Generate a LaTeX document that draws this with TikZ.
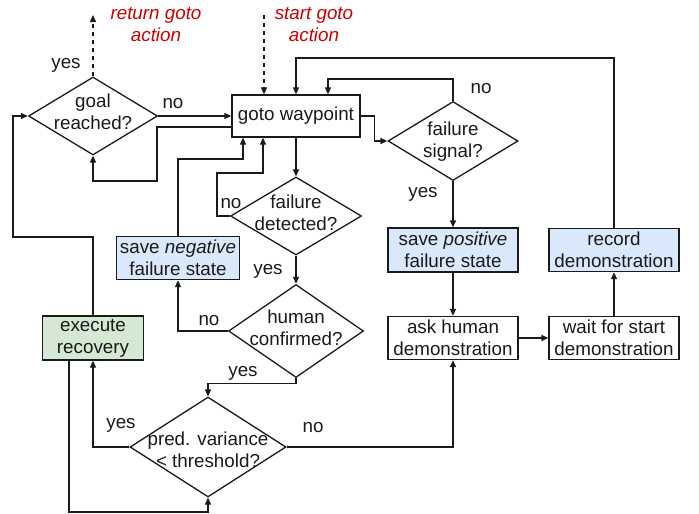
\documentclass[tikz,border=0pt]{standalone}
\usepackage{fontspec}
\setmainfont{Liberation Sans}
\usetikzlibrary{arrows.meta,shapes.geometric}
\newcommand{\fcfont}{\fontsize{18.8pt}{22pt}\selectfont}
\definecolor{fcink}{HTML}{1A1A1A}
\definecolor{fcblue}{HTML}{DAE8FC}
\definecolor{fcgreen}{HTML}{D5E8D4}
\definecolor{fcred}{HTML}{CC0000}
\tikzset{
  flowbox/.style={draw=fcink,rectangle,fill=white,line width=1.3pt,
    minimum width=130pt,minimum height=43pt,inner sep=0pt,align=center,
    font=\fcfont,text=fcink},
  flowdecision/.style={draw=fcink,diamond,fill=white,line width=1.3pt,inner sep=0pt},
  flowtext/.style={align=center,font=\fcfont,text=fcink,inner sep=0pt},
  flowlabel/.style={font=\fcfont,text=fcink,inner sep=0pt},
  flownote/.style={align=center,font=\fcfont\itshape,text=fcred,inner sep=0pt},
  flowline/.style={draw=fcink,line width=1.3pt},
  flowarrow/.style={draw=fcink,line width=1.3pt,-{Triangle[length=7pt,width=6pt]}},
  flowdashed/.style={draw=fcink,line width=1.3pt,dash pattern=on 4pt off 4pt,
    -{Triangle[length=7pt,width=6pt]}},
}
\begin{document}
\begin{tikzpicture}[x=1pt,y=-1pt]
        \path[use as bounding box] (0,0) rectangle (699,514);
        % decisions
        \node[flowdecision,minimum width=129pt,minimum height=78pt] (goal) at (93,116) {};
        \node[flowtext] (goaltext) at (93,112) {goal\\reached?};
        \node[flowdecision,minimum width=130pt,minimum height=79pt] (fsig) at (453,141) {};
        \node[flowtext] (fsigtext) at (453,142) {failure\\signal?};
        \node[flowdecision,minimum width=131pt,minimum height=78pt] (fdet) at (296,216) {};
        \node[flowtext] (fdettext) at (296,213) {failure\\detected?};
        \node[flowdecision,minimum width=135pt,minimum height=93pt] (hconf) at (296,331) {};
        \node[flowtext] (hconftext) at (296,328) {human\\confirmed?};
        \node[flowdecision,minimum width=156pt,minimum height=100pt] (pred) at (208,447) {};
        \node[flowtext] (predtext) at (208,450) {pred. variance\\< threshold?};
        % boxes
        \node[flowbox,minimum width=128pt,minimum height=42pt] (goto) at (296,116) {goto waypoint};
        \node[flowbox,fill=fcblue,minimum width=123pt] (saveneg) at (178,258) {save \textit{negative}\\failure state};
        \node[flowbox,fill=fcblue,minimum height=44pt] (savepos) at (453,250) {save \textit{positive}\\failure state};
        \node[flowbox,fill=fcblue] (record) at (614,250) {record\\demonstration};
        \node[flowbox] (ask) at (453,338) {ask human\\demonstration};
        \node[flowbox] (wait) at (614,338) {wait for start\\demonstration};
        \node[flowbox,fill=fcgreen,minimum width=101pt,minimum height=44pt] (recov) at (93,338) {execute\\recovery};
        % external actions
        \coordinate (rettop) at (93,15);
        \coordinate (starttop) at (264,15);
        \node[flownote] (retnote) at (156,25) {return goto\\action};
        \node[flownote] (startnote) at (314,25) {start goto\\action};
        \draw[flowdashed] (goal.north) -- (rettop);
        \draw[flowdashed] (starttop) -- ([xshift=-32pt]goto.north);
        % connectors
        \draw[flowarrow] (goal.east) -- (goto.west);
        \draw[flowarrow] ([yshift=-11pt]goto.west) -| (157,181) -| (goal.south);
        \draw[flowarrow] (goto.east) -- ++(14,0) |- (fsig.west);
        \draw[flowarrow] (fsig.north) -- ++(0,-22) -| ([xshift=32pt]goto.north);
        \draw[flowarrow] (record.north) -- (614,58) -| (goto.north);
        \draw[flowarrow] (goto.south) -- (fdet.north);
        \draw[flowarrow] (fdet.west) -| (217,173) -| ([xshift=-33pt]goto.south);
        \draw[flowarrow] (saveneg.north) -- (178,159) -| ([xshift=-53pt]goto.south);
        \draw[flowarrow] (fdet.south) -- (hconf.north);
        \draw[flowarrow] (hconf.west) -| (saveneg.south);
        \draw[flowarrow] (hconf.south) -- ++(0,5) -| (pred.north);
        \draw[flowarrow] (pred.west) -| (recov.south);
        \draw[flowarrow] (pred.east) -| (ask.south);
        \draw[flowarrow] ([xshift=-24pt]recov.south) -- (69,512) -| (pred.south);
        \draw[flowarrow] (recov.north) |- (13,237) |- (goal.west);
        \draw[flowarrow] (fsig.south) -- (savepos.north);
        \draw[flowarrow] (savepos.south) -- (ask.north);
        \draw[flowarrow] (ask.east) -- (wait.west);
        \draw[flowarrow] (wait.north) -- (record.south);
        % branch labels
        \node[flowlabel] (goalyes) at (66,65) {yes};
        \node[flowlabel] (goalno) at (173,104) {no};
        \node[flowlabel] (fsigno) at (481,89) {no};
        \node[flowlabel] (fsigyes) at (423,194) {yes};
        \node[flowlabel] (fdetno) at (231,204) {no};
        \node[flowlabel] (fdetyes) at (268,271) {yes};
        \node[flowlabel] (hconfno) at (209,321) {no};
        \node[flowlabel] (hconfyes) at (243,373) {yes};
        \node[flowlabel] (predyes) at (121,425) {yes};
        \node[flowlabel] (predno) at (313,428) {no};
      \end{tikzpicture}
\end{document}
